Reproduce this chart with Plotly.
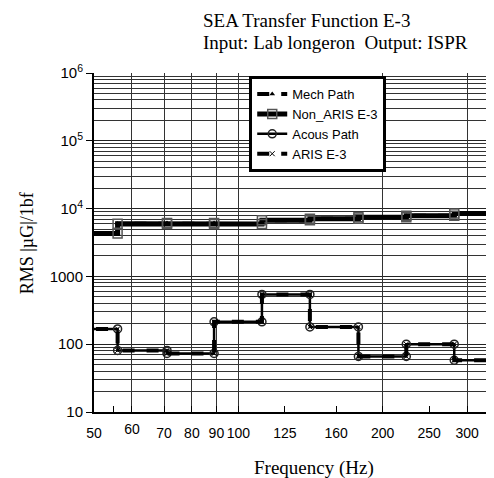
import plotly.graph_objects as go

# 1/3 octave band edges (Hz) and band levels
band_edges = [45, 56, 71, 89, 112, 141, 178, 224, 282, 355]
mech_path = [4310, 5990, 6140, 5940, 6710, 7110, 7430, 7870, 8440]
non_aris = [4310, 5990, 6140, 5940, 6710, 7110, 7430, 7870, 8440]
acous_path = [168, 81, 73, 214, 543, 180, 66, 100, 58]
aris = [168, 81, 73, 214, 543, 180, 66, 100, 58]

x_ticks = [50, 60, 70, 80, 90, 100, 125, 160, 200, 250, 300]
x_grid = [60, 70, 80, 90, 100, 200, 300]
y_ticks = [10, 100, 1000, 1e4, 1e5, 1e6]
y_labels = ["10", "100", "1000", "10<sup>4</sup>", "10<sup>5</sup>", "10<sup>6</sup>"]


def steps(vals):
    xs, ys = [], []
    for i, v in enumerate(vals):
        xs += [band_edges[i], band_edges[i + 1]]
        ys += [v, v]
    return xs, ys


fig = go.Figure()

xs, ys = steps(mech_path)
fig.add_trace(go.Scatter(x=xs, y=ys, name="Mech Path", mode="lines+markers",
    line=dict(color="black", width=4, dash="dash"),
    marker=dict(symbol="triangle-up", size=5, color="black")))

xs, ys = steps(non_aris)
fig.add_trace(go.Scatter(x=xs, y=ys, name="Non_ARIS E-3", mode="lines+markers",
    line=dict(color="black", width=5),
    marker=dict(symbol="square-open", size=9, color="#555", line=dict(width=1.5))))

xs, ys = steps(acous_path)
fig.add_trace(go.Scatter(x=xs, y=ys, name="Acous Path", mode="lines+markers",
    line=dict(color="black", width=2.5),
    marker=dict(symbol="circle-open", size=8, color="#222", line=dict(width=1.5))))

xs, ys = steps(aris)
fig.add_trace(go.Scatter(x=xs, y=ys, name="ARIS E-3", mode="lines+markers",
    line=dict(color="black", width=4, dash="dash"),
    marker=dict(symbol="x-thin-open", size=5, color="black", line=dict(width=1))))

# empty traces so the helper axes get drawn
fig.add_trace(go.Scatter(x=[], y=[], xaxis="x2", showlegend=False, hoverinfo="skip"))
fig.add_trace(go.Scatter(x=[], y=[], xaxis="x3", showlegend=False, hoverinfo="skip"))

# 60 label is drawn by the helper axis x3
x_text = ["" if v == 60 else str(v) for v in x_ticks]

serif = dict(family="Liberation Serif", size=19, color="black")
xr = [1.69897, 2.529]
fig.update_layout(
    width=494, height=478,
    margin=dict(l=86, r=8, t=65, b=74),
    paper_bgcolor="white", plot_bgcolor="white",
    font=dict(family="Liberation Sans", size=15, color="black"),
    annotations=[
        dict(text="SEA Transfer Function E-3", xref="paper", yref="paper",
             x=0.27, y=1.156, xanchor="left", yanchor="middle", showarrow=False, font=serif),
        dict(text="Input: Lab longeron  Output: ISPR", xref="paper", yref="paper",
             x=0.27, y=1.0914, xanchor="left", yanchor="middle", showarrow=False, font=serif),
        dict(text="Frequency (Hz)", xref="paper", yref="paper", x=0.5525, y=-0.165,
             xanchor="center", yanchor="middle", showarrow=False, font=serif),
        dict(text="RMS |µG|/1bf", xref="paper", yref="paper", x=-0.1675, y=0.4985,
             xanchor="center", yanchor="middle", textangle=-90, showarrow=False,
             font=dict(family="Liberation Serif", size=18, color="black")),
    ],
    xaxis=dict(type="log", range=xr, tickmode="array", tickvals=x_ticks, ticktext=x_text,
               showgrid=False, ticks="inside", ticklen=6, tickcolor="black",
               tickangle=0, tickfont=dict(size=14), ticklabelstandoff=7,
               showline=True, linecolor="black", linewidth=2, zeroline=False),
    xaxis2=dict(type="log", range=xr, overlaying="x", tickmode="array", tickvals=x_grid,
                showticklabels=False, showgrid=True, gridcolor="#333", gridwidth=1,
                ticks=""),
    xaxis3=dict(type="log", range=xr, overlaying="x", side="bottom", anchor="y",
                tickmode="array", tickvals=[55, 60], ticktext=["", "60"],
                showgrid=False, ticks="inside", ticklen=6, tickcolor="black",
                tickangle=0, tickfont=dict(size=14), ticklabelstandoff=7),
    yaxis=dict(type="log", range=[1, 6], tickvals=y_ticks, ticktext=y_labels,
               showgrid=True, gridcolor="#222", gridwidth=1,
               minor=dict(dtick="D1", showgrid=True, gridcolor="#333", gridwidth=1),
               ticks="outside", ticklen=6, tickcolor="black",
               showline=True, linecolor="black", linewidth=2, mirror=True),
    legend=dict(x=0.39, y=0.991, xanchor="left", yanchor="top",
                bgcolor="white", bordercolor="black", borderwidth=3,
                font=dict(family="Liberation Sans", size=13),
                tracegroupgap=0, itemwidth=30),
)

fig.write_html("out.html")
